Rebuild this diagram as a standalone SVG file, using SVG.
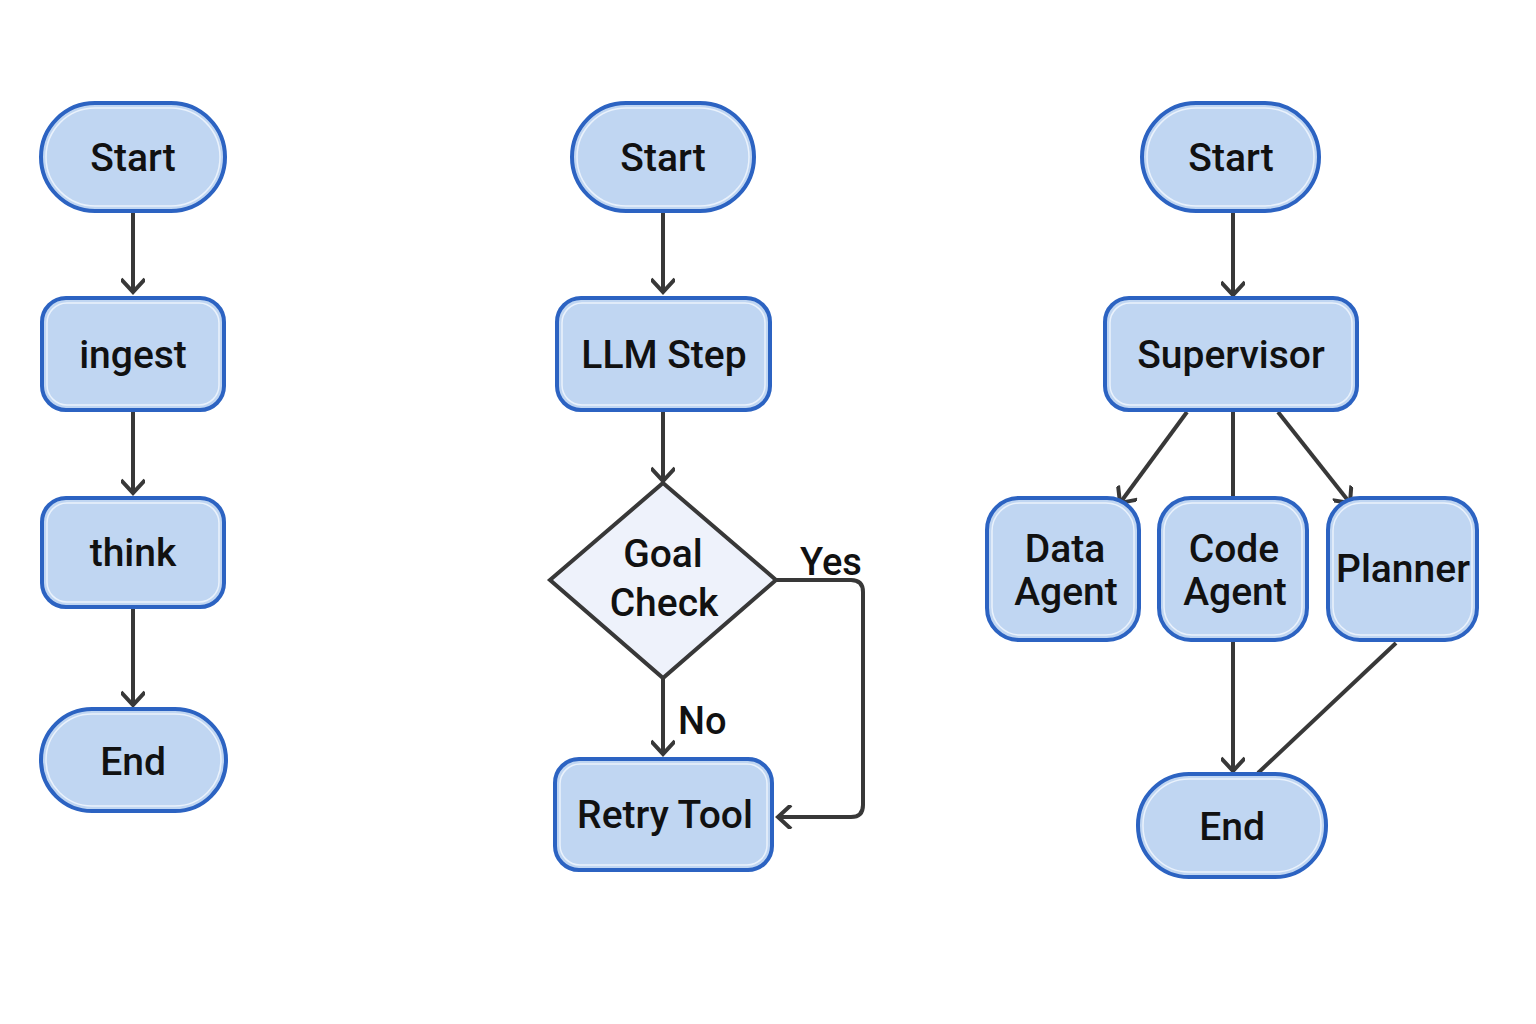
<svg xmlns="http://www.w3.org/2000/svg" width="1536" height="1024" viewBox="0 0 1536 1024">
<defs>
<style>
.n{fill:#c0d6f2;stroke:#2c63c2;stroke-width:4}
.hl{fill:none;stroke:#eaf2fc;stroke-width:1.5}
.t{font-family:Roboto,"Liberation Sans",sans-serif;font-size:39px;font-weight:500;fill:#111;text-anchor:middle}
.c{fill:none;stroke:#383838;stroke-width:4}
.lbl{font-family:Roboto,"Liberation Sans",sans-serif;font-size:38px;font-weight:500;fill:#111}
</style>
<marker id="a" markerWidth="22" markerHeight="24" refX="15" refY="12" orient="auto" markerUnits="userSpaceOnUse">
<path d="M2,0 L15,12 L2,24" fill="none" stroke="#383838" stroke-width="4"/>
</marker>
</defs>
<rect width="1536" height="1024" fill="#fff"/>
<g id="connectors">
<line class="c" x1="133" y1="211" x2="133" y2="292" marker-end="url(#a)"/>
<line class="c" x1="133" y1="410" x2="133" y2="493" marker-end="url(#a)"/>
<line class="c" x1="133" y1="607" x2="133" y2="705" marker-end="url(#a)"/>
<line class="c" x1="663" y1="211" x2="663" y2="292" marker-end="url(#a)"/>
<line class="c" x1="663" y1="410" x2="663" y2="481" marker-end="url(#a)"/>
<line class="c" x1="663" y1="678" x2="663" y2="754" marker-end="url(#a)"/>
<path class="c" d="M776,580 H851 Q863,580 863,592 V805 Q863,817 851,817 H778" marker-end="url(#a)"/>
<line class="c" x1="1233" y1="211" x2="1233" y2="295" marker-end="url(#a)"/>
<line class="c" x1="1187" y1="412" x2="1120" y2="503" marker-end="url(#a)"/>
<line class="c" x1="1233" y1="410" x2="1233" y2="498"/>
<line class="c" x1="1278" y1="412" x2="1350" y2="503" marker-end="url(#a)"/>
<line class="c" x1="1233" y1="640" x2="1233" y2="771" marker-end="url(#a)"/>
<line class="c" x1="1396" y1="643" x2="1258" y2="773"/>
<text class="lbl" x="800" y="575">Yes</text>
<text class="lbl" x="678" y="734">No</text>
</g>
<g id="start1"><rect class="n" x="41" y="103" width="184" height="108" rx="54"/><rect class="hl" x="46" y="108" width="174" height="98" rx="49"/><text class="t" x="133" y="171">Start</text></g>
<g id="ingest"><rect class="n" x="42" y="298" width="182" height="112" rx="24"/><rect class="hl" x="47" y="303" width="172" height="102" rx="20"/><text class="t" x="133" y="368">ingest</text></g>
<g id="think"><rect class="n" x="42" y="498" width="182" height="109" rx="24"/><rect class="hl" x="47" y="503" width="172" height="99" rx="20"/><text class="t" x="133" y="566">think</text></g>
<g id="end1"><rect class="n" x="41" y="709" width="185" height="102" rx="51"/><rect class="hl" x="46" y="714" width="175" height="92" rx="46"/><text class="t" x="133" y="775">End</text></g>
<g id="start2"><rect class="n" x="572" y="103" width="182" height="108" rx="54"/><rect class="hl" x="577" y="108" width="172" height="98" rx="49"/><text class="t" x="663" y="171">Start</text></g>
<g id="llm"><rect class="n" x="557" y="298" width="213" height="112" rx="24"/><rect class="hl" x="562" y="303" width="203" height="102" rx="20"/><text class="t" x="664" y="368">LLM Step</text></g>
<g id="goal"><polygon points="663,483 776,580 663,678 550,580" fill="#eef2fb" stroke="#383838" stroke-width="4"/><text class="t" x="663" y="567">Goal</text><text class="t" x="664" y="616">Check</text></g>
<g id="retry"><rect class="n" x="555" y="759" width="217" height="111" rx="24"/><rect class="hl" x="560" y="764" width="207" height="101" rx="20"/><text class="t" x="665" y="828">Retry Tool</text></g>
<g id="start3"><rect class="n" x="1142" y="103" width="177" height="108" rx="54"/><rect class="hl" x="1147" y="108" width="167" height="98" rx="49"/><text class="t" x="1231" y="171">Start</text></g>
<g id="supervisor"><rect class="n" x="1105" y="298" width="252" height="112" rx="24"/><rect class="hl" x="1110" y="303" width="242" height="102" rx="20"/><text class="t" x="1231" y="368">Supervisor</text></g>
<g id="data"><rect class="n" x="987" y="498" width="152" height="142" rx="32"/><rect class="hl" x="992" y="503" width="142" height="132" rx="28"/><text class="t" x="1065" y="562">Data</text><text class="t" x="1066" y="605">Agent</text></g>
<g id="code"><rect class="n" x="1159" y="498" width="148" height="142" rx="32"/><rect class="hl" x="1164" y="503" width="138" height="132" rx="28"/><text class="t" x="1234" y="562">Code</text><text class="t" x="1235" y="605">Agent</text></g>
<g id="planner"><rect class="n" x="1328" y="498" width="149" height="142" rx="32"/><rect class="hl" x="1333" y="503" width="139" height="132" rx="28"/><text class="t" x="1403" y="582">Planner</text></g>
<g id="end3"><rect class="n" x="1138" y="774" width="188" height="103" rx="51"/><rect class="hl" x="1143" y="779" width="178" height="93" rx="46"/><text class="t" x="1232" y="840">End</text></g>
</svg>
